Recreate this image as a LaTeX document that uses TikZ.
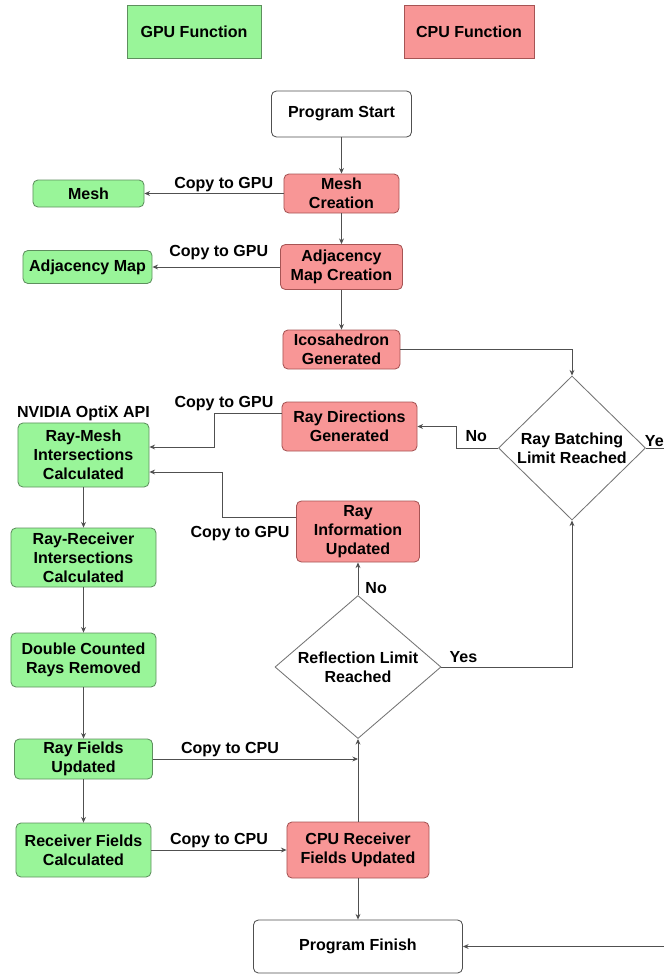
\documentclass[tikz,border=0pt]{standalone}
\usepackage{fontspec}
\setmainfont{Liberation Sans}
\usetikzlibrary{arrows.meta, positioning, shapes.geometric, calc}

\definecolor{gpugreen}{HTML}{99F599}
\definecolor{gpuedge}{HTML}{5E8F5E}
\definecolor{cpured}{HTML}{F89696}
\definecolor{cpuedge}{HTML}{A65454}
\definecolor{lineclr}{HTML}{505050}

\begin{document}
\begin{tikzpicture}[x=0.025cm, y=-0.025cm, >={Stealth[length=4pt, width=3.5pt]},
  every node/.style={font=\fontsize{11.4pt}{13.6pt}\selectfont\bfseries, align=center, inner sep=1pt},
  procbox/.style={rectangle, rounded corners=3.5pt, line width=0.6pt},
  gpu/.style={procbox, fill=gpugreen, draw=gpuedge},
  cpu/.style={procbox, fill=cpured, draw=cpuedge},
  endbox/.style={procbox, fill=white, draw=lineclr},
  decision/.style={diamond, draw=lineclr!80, line width=0.6pt, fill=white, inner sep=0pt},
  flow/.style={->, draw=lineclr, line width=0.6pt}]

\useasboundingbox (0,0) rectangle (664,975);
\clip (0,0) rectangle (664,975);

% Legend
\node[gpu, rounded corners=0pt, minimum width=3.35cm, minimum height=1.325cm] (leggpu) at (194,31.5) {GPU Function};
\node[cpu, rounded corners=0pt, minimum width=3.25cm, minimum height=1.325cm] (legcpu) at (469,31.5) {CPU Function};

% Setup on the CPU
\node[endbox, minimum width=3.5cm, minimum height=1.15cm] (start) at (341.5,114) {Program Start};
\node[cpu, minimum width=2.875cm, minimum height=0.975cm] (meshc) at (341.5,193.5) {Mesh\\Creation};
\node[gpu, minimum width=2.775cm, minimum height=0.675cm] (mesh) at (88.5,193.5) {Mesh};
\node[cpu, minimum width=3.05cm, minimum height=1.125cm] (adjc) at (341.5,267) {Adjacency\\Map Creation};
\node[gpu, minimum width=3.225cm, minimum height=0.825cm] (adjmap) at (87.5,267) {Adjacency Map};
\node[cpu, minimum width=2.925cm, minimum height=0.975cm] (ico) at (341.5,349.5) {Icosahedron\\Generated};

% Ray loop
\node[decision, minimum width=3.675cm, minimum height=3.6cm, shape aspect=1.02] (batch) at (572,448) {Ray Batching\\Limit Reached};
\node[cpu, minimum width=3.375cm, minimum height=1.225cm] (raydir) at (349.5,426.5) {Ray Directions\\Generated};
\node[cpu, minimum width=3.075cm, minimum height=1.525cm] (rinfo) at (358,531.5) {Ray\\Information\\Updated};
\node[decision, minimum width=4.15cm, minimum height=3.575cm, shape aspect=1.16] (refl) at (358,667) {Reflection Limit\\Reached};
\node[cpu, minimum width=3.55cm, minimum height=1.4cm] (cpurecv) at (358,850) {CPU Receiver\\Fields Updated};
\node[endbox, minimum width=5.225cm, minimum height=1.325cm] (finish) at (358,946.5) {Program Finish};

% GPU column
\node[gpu, minimum width=3.275cm, minimum height=1.6cm] (rmesh) at (83.5,455) {Ray-Mesh\\Intersections\\Calculated};
\node[above=0pt of rmesh] (optix) {NVIDIA OptiX API};
\node[gpu, minimum width=3.625cm, minimum height=1.475cm] (rrecv) at (83.5,557.5) {Ray-Receiver\\Intersections\\Calculated};
\node[gpu, minimum width=3.625cm, minimum height=1.35cm] (dbl) at (83.5,660) {Double Counted\\Rays Removed};
\node[gpu, minimum width=3.45cm, minimum height=1.0cm] (rfields) at (83.5,759) {Ray Fields\\Updated};
\node[gpu, minimum width=3.375cm, minimum height=1.35cm] (recvf) at (83.5,850) {Receiver Fields\\Calculated};
\node[left=3.5pt of rinfo, yshift=-0.06cm] (copyinfo) {Copy to GPU};

% Arrows
\draw[flow] (start) -- (meshc);
\draw[flow] (meshc) -- node[above, pos=0.43] {Copy to GPU} (mesh);
\draw[flow] (meshc) -- (adjc);
\draw[flow] (adjc) -- node[above=3.5pt, pos=0.48] {Copy to GPU} (adjmap);
\draw[flow] (adjc) -- (ico);
\draw[flow] (ico) -| (batch);
\draw[flow] (batch.west) -- node[above=3pt, pos=0.52] {No} ++(-42,0) |- (raydir.east);
\draw[flow] ($(raydir.west)+(0,-13.5)$) -- node[above, pos=0.86] {Copy to GPU} ++(-67,0) |- ($(rmesh.east)+(0,-8)$);
\draw[flow] ($(rinfo.west)+(0,-14.5)$) -- ++(-74,0) |- ($(rmesh.east)+(0,17)$);
\draw[flow] (rmesh) -- (rrecv);
\draw[flow] (rrecv) -- (dbl);
\draw[flow] (dbl) -- (rfields);
\draw[flow] (rfields) -- (recvf);
\draw[flow] (rfields.east) -- node[above, pos=0.376] {Copy to CPU} (cpurecv.north |- rfields.east);
\draw[flow] (recvf) -- node[above, pos=0.5] {Copy to CPU} (cpurecv);
\draw[flow] (cpurecv) -- (refl);
\draw[flow] (cpurecv) -- (finish);
\draw[flow] (refl) -- node[right=4pt, pos=0.2] {No} (rinfo);
\draw[flow] (refl.east) -| node[above=2pt, pos=0.084] {Yes} (batch.south);
\draw[flow] (batch.east) -- node[pos=0, anchor=south west, xshift=-2pt] {Yes} ++(80,0) |- (finish.east);

\end{tikzpicture}
\end{document}
